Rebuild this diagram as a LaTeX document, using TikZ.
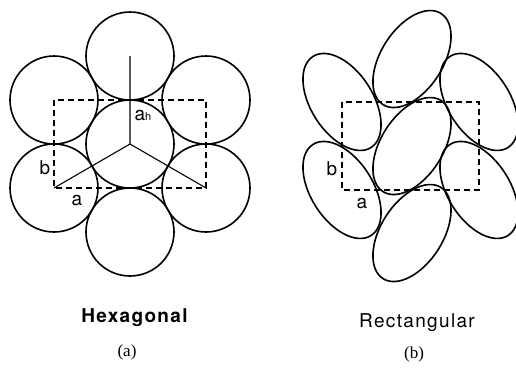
\documentclass[tikz,border=0pt]{standalone}
\usepackage{fontspec}
\setmainfont{Liberation Serif}
\newfontfamily\labfont{TeX Gyre Heros}
\newfontfamily\capfont[LetterSpace=7]{TeX Gyre Heros}
\begin{document}
\begin{tikzpicture}[x=1pt,y=-1pt,
  ball/.style={line width=1.6pt},
  cell/.style={line width=1.2pt, dash pattern=on 6pt off 4pt},
  axis/.style={line width=1.1pt},
  lab/.style={inner sep=0pt, font=\labfont\fontsize{19}{21}\selectfont},
  captext/.style={inner sep=0pt, font=\capfont\fontsize{19}{21}\selectfont},
  sub/.style={inner sep=0pt, font=\fontsize{17}{19}\selectfont}]
\useasboundingbox (0,0) rectangle (516,368);
% ---- (a) hexagonal ----
\coordinate (C) at (130,144);
\coordinate (T) at (130,56);
\coordinate (B) at (130,232);
\coordinate (UL) at (54,100);
\coordinate (LL) at (54,188);
\coordinate (UR) at (206,100);
\coordinate (LR) at (206,188);
\foreach \p in {C,T,B,UL,LL,UR,LR} \draw[ball] (\p) circle[radius=44];
\draw[cell] (UL) rectangle (LR);
\draw[axis] (T) -- (C) -- (LL);
\draw[axis] (C) -- (LR);
\node[lab] (ah) at (143,116) {a{\fontsize{11}{11}\selectfont h}};
\node[lab] (bl) at (45,168) {b};
\node[lab] (al) at (77,201) {a};
% ---- (b) rectangular ----
\coordinate (C2) at (412,146);
\coordinate (T2) at (412,59);
\coordinate (B2) at (412,233);
\coordinate (UL2) at (342,102);
\coordinate (LL2) at (342,190);
\coordinate (UR2) at (479,102);
\coordinate (LR2) at (479,190);
\foreach \p in {C2,T2,B2} \draw[ball,rotate around={57.5:(\p)}] (\p) ellipse[x radius=54, y radius=31];
\foreach \p in {UL2,LL2,UR2,LR2} \draw[ball,rotate around={-57.5:(\p)}] (\p) ellipse[x radius=54, y radius=31];
\draw[cell] (UL2) rectangle (LR2);
\node[lab] (br) at (332,169) {b};
\node[lab] (ar) at (362,204) {a};
% ---- captions ----
\node[captext] (hex) at (134.5,318) {\bfseries Hexagonal};
\node[captext] (rect) at (417,323) {Rectangular};
\node[sub] (pa) at (127,352) {(a)};
\node[sub] (pb) at (414,354) {(b)};
\end{tikzpicture}
\end{document}
